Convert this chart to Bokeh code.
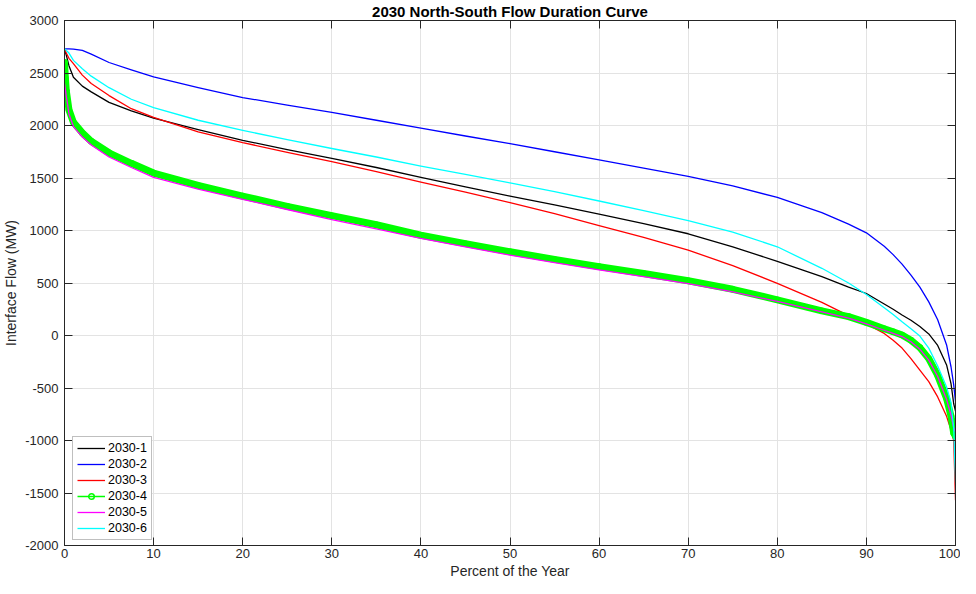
from bokeh.plotting import figure
from bokeh.models import (LinearAxis, FixedTicker, Legend, LegendItem, Range1d,
                          ColumnDataSource, Title)
from bokeh.embed import file_html
from bokeh.resources import INLINE

# ---------------- data ----------------
pct = [0, 0.1, 0.2, 0.5, 1, 2, 3, 5, 7.5, 10, 15, 20, 25, 30, 35, 40, 45, 50,
       55, 60, 65, 70, 75, 80, 85, 88, 90, 92, 93, 94, 95, 96, 97, 98, 99,
       99.5, 99.8, 100]

s2030_1 = [2730, 2700, 2670, 2570, 2460, 2375, 2320, 2220, 2140, 2070, 1960, 1859,
           1770, 1687, 1600, 1505, 1415, 1328, 1245, 1156, 1065, 969, 845, 706,
           560, 460, 400, 300, 250, 195, 145, 85, 15, -95, -280, -460, -650, -720]
s2030_2 = [2730, 2730, 2730, 2730, 2728, 2715, 2680, 2600, 2530, 2462, 2360, 2266,
           2195, 2125, 2050, 1975, 1900, 1828, 1750, 1672, 1595, 1516, 1425, 1315,
           1170, 1060, 978, 850, 770, 680, 575, 460, 320, 150, -90, -300, -470, -630]
s2030_3 = [2730, 2710, 2690, 2640, 2590, 2480, 2400, 2285, 2160, 2078, 1940, 1837,
           1745, 1656, 1560, 1460, 1365, 1266, 1160, 1047, 935, 813, 665, 497,
           315, 190, 110, 20, -45, -120, -220, -330, -440, -585, -770, -900, -1000,
           -1570]
s2030_4 = [2600, 2450, 2330, 2150, 2030, 1930, 1850, 1740, 1640, 1547, 1430, 1328,
           1230, 1141, 1055, 955, 875, 797, 725, 656, 590, 522, 440, 340,
           235, 180, 125, 65, 35, 5, -45, -115, -220, -380, -600, -770, -930, -960]
s2030_5 = [2400, 2340, 2280, 2110, 1990, 1890, 1815, 1700, 1600, 1506, 1395, 1297,
           1200, 1103, 1015, 925, 845, 766, 695, 625, 560, 494, 415, 325,
           225, 165, 110, 50, 20, -10, -60, -130, -235, -390, -610, -760, -880, -920]
s2030_6 = [2730, 2725, 2715, 2690, 2620, 2540, 2470, 2360, 2250, 2170, 2050, 1953,
           1865, 1781, 1700, 1614, 1535, 1453, 1370, 1281, 1190, 1094, 985, 845,
           640, 500, 390, 265, 200, 130, 65, -5, -120, -290, -490, -640, -880, -1400]

series_names = ["2030-1", "2030-2", "2030-3", "2030-4", "2030-5", "2030-6"]
series_colors = ["#000000", "#0000ff", "#ff0000", "#00ff00", "#ff00ff", "#00ffff"]

x_ticks = [0, 10, 20, 30, 40, 50, 60, 70, 80, 90, 100]
x_tick_labels = ["0", "10", "20", "30", "40", "50", "60", "70", "80", "90", "100"]
y_ticks = [-2000, -1500, -1000, -500, 0, 500, 1000, 1500, 2000, 2500, 3000]
y_tick_labels = ["-2000", "-1500", "-1000", "-500", "0", "500", "1000", "1500",
                 "2000", "2500", "3000"]

title_text = "2030 North-South Flow Duration Curve"
x_label = "Percent of the Year"
y_label = "Interface Flow (MW)"

# ---------------- figure ----------------
FONT = "Liberation Sans"
AX = "#262626"

p = figure(width=960, height=578, output_backend="svg", toolbar_location=None,
           x_range=Range1d(0, 100), y_range=Range1d(-2000, 3000),
           min_border_left=2, min_border_right=5, min_border_top=0,
           min_border_bottom=0)

p.title.text = title_text
p.title.align = "center"
p.title.text_font = FONT
p.title.text_font_size = "15px"
p.title.text_font_style = "bold"
p.title.text_color = "#000000"
p.title.standoff = 1
p.title.text_line_height = 1.0

p.outline_line_color = AX
p.outline_line_width = 1

for ax, ticks, labels in ((p.xaxis[0], x_ticks, x_tick_labels),
                          (p.yaxis[0], y_ticks, y_tick_labels)):
    ax.ticker = FixedTicker(ticks=ticks)
    ax.major_label_overrides = {t: l for t, l in zip(ticks, labels)}
    ax.major_tick_in = 8
    ax.major_tick_out = 0
    ax.minor_tick_line_color = None
    ax.axis_line_color = AX
    ax.major_tick_line_color = AX
    ax.major_label_text_font = FONT
    ax.major_label_text_font_size = "13px"
    ax.major_label_text_color = AX
    ax.major_label_text_line_height = 1.0
    ax.axis_label_text_font = FONT
    ax.axis_label_text_font_size = "14px"
    ax.axis_label_text_font_style = "normal"
    ax.axis_label_text_color = AX
    ax.axis_label_text_line_height = 1.0

p.yaxis[0].axis_label = y_label
p.xaxis[0].major_label_standoff = 3
p.yaxis[0].major_label_standoff = 6
p.yaxis[0].axis_label_standoff = 3

# x axis label as a title placed below the tick labels
xlab = Title(text=x_label, align="center", text_font=FONT, text_font_size="14px",
             text_font_style="normal", text_color=AX, standoff=0, offset=0,
             text_line_height=1.0)
p.add_layout(xlab, "below")

# top and right axes (ticks only, MATLAB box style)
top = LinearAxis(ticker=FixedTicker(ticks=x_ticks))
right = LinearAxis(ticker=FixedTicker(ticks=y_ticks))
for ax in (top, right):
    ax.major_tick_in = 8
    ax.major_tick_out = 0
    ax.minor_tick_line_color = None
    ax.axis_line_color = AX
    ax.major_tick_line_color = AX
    ax.major_label_text_font_size = "0px"
    ax.major_label_text_color = None
    ax.major_label_standoff = 0
p.add_layout(top, "above")
p.add_layout(right, "right")

p.xgrid.ticker = FixedTicker(ticks=x_ticks)
p.ygrid.ticker = FixedTicker(ticks=y_ticks)
p.xgrid.grid_line_color = "#e3e3e3"
p.ygrid.grid_line_color = "#e3e3e3"

# ---------------- series ----------------
data = {"pct": pct}
all_series = [s2030_1, s2030_2, s2030_3, s2030_4, s2030_5, s2030_6]
for name, vals in zip(series_names, all_series):
    data[name] = vals
src = ColumnDataSource(data)

items = []
for name, col in zip(series_names, series_colors):
    if name == "2030-4":
        p.line("pct", name, source=src, line_color=col, line_width=7,
               line_join="round", line_cap="round")
        thin = p.line("pct", name, source=src, line_color=col, line_width=1.5)
        mk = p.scatter("pct", name, source=src, marker="circle", size=5,
                       line_color=col, line_width=1.5, fill_color=None)
        items.append(LegendItem(label=name, renderers=[thin, mk]))
    else:
        r = p.line("pct", name, source=src, line_color=col, line_width=1.3,
                   line_join="round")
        items.append(LegendItem(label=name, renderers=[r]))

legend = Legend(items=items, location=(8, 5), orientation="vertical")
legend.label_text_font = FONT
legend.label_text_font_size = "12.5px"
legend.label_text_color = "#000000"
legend.glyph_width = 28
legend.glyph_height = 14
legend.label_height = 14
legend.spacing = 2
legend.padding = 4
legend.label_standoff = 3
legend.margin = 0
legend.border_line_color = "#808080"
legend.border_line_width = 1
legend.background_fill_color = "#ffffff"
legend.background_fill_alpha = 1
p.add_layout(legend, "center")

open("out.html", "w").write(file_html(p, INLINE))
